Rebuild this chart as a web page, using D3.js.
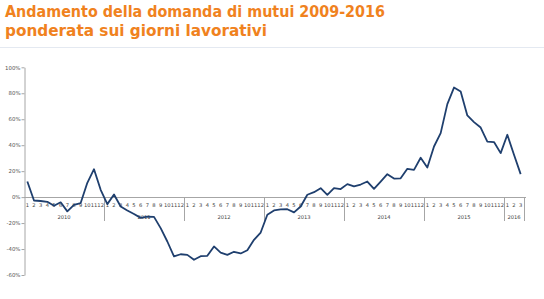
<!DOCTYPE html>
<html><head><meta charset="utf-8">
<script src="https://cdnjs.cloudflare.com/ajax/libs/d3/7.8.5/d3.min.js"></script>
<style>body{margin:0;background:#fff}svg{display:block}</style>
</head><body><svg id="c" width="544" height="299"></svg>
<script>
const titleLines = ["Andamento della domanda di mutui 2009-2016", "ponderata sui giorni lavorativi"];
const years = ["2010","2011","2012","2013","2014","2015","2016"];
const monthsPerYear = [12,12,12,12,12,12,3];
const yTicks = [-60,-40,-20,0,20,40,60,80,100];
const values = [
  12,-2.6,-3,-3.6,-6.7,-4,-11,-6,-4.6,11,21.5,5.6,
  -5.4,2,-7.2,-10.3,-13,-16,-15,-15.2,-23.9,-34.2,-45.7,-44,
  -44.5,-48.3,-45.5,-45.2,-38,-42.7,-44.5,-42.1,-43.4,-40.9,-32.9,-27.3,
  -13.6,-10.3,-9.5,-9.3,-11.8,-7.2,1.8,3.8,6.9,1.8,6.9,6.2,
  10,8.2,9.7,12,6.4,12,17.7,14.3,14.5,21.8,21,30.3,
  22.8,39,49.3,71.6,84.4,81.4,62.9,57.8,53.6,42.8,42.4,33.9,
  48,32.6,17.7
];

const svg = d3.select("#c");
const cats = [];
years.forEach((y,yi)=>{ for(let m=1;m<=monthsPerYear[yi];m++) cats.push({year:y,month:m,key:y+"-"+m}); });

const x = d3.scaleBand().domain(cats.map(d=>d.key)).range([24,524]).padding(0);
const y = d3.scaleLinear().domain([-60,100]).range([275,67.3]);

// title
const tl = svg.append("g");
const titleWidths = [380, 262];
titleLines.forEach((t,i)=>{
  tl.append("text").attr("x",5).attr("y",17+i*19)
    .attr("font-family","'DejaVu Sans', sans-serif").attr("font-size",16.5)
    .attr("font-weight","bold").attr("fill","#F0821E")
    .attr("textLength", titleWidths[i]).attr("lengthAdjust","spacingAndGlyphs").text(t);
});
svg.append("line").attr("x1",0).attr("x2",544).attr("y1",47.5).attr("y2",47.5).attr("stroke","#e4e9f1").attr("stroke-width",1);

// y axis
const yAxis = d3.axisLeft(y).tickValues(yTicks).tickFormat(d=>d+"%").tickSize(3).tickSizeOuter(0);
const ga = svg.append("g").attr("transform","translate(24.5,0)").call(yAxis);
ga.select(".domain").attr("stroke","#a6a6a6");
ga.selectAll(".tick line").attr("stroke","#a6a6a6");
ga.selectAll(".tick text").attr("font-family","'DejaVu Sans', sans-serif").attr("font-size",5.4).attr("fill","#555").attr("x",-4);

// x axis line at 0
svg.append("line").attr("x1",24).attr("x2",526).attr("y1",Math.round(y(0))+0.5).attr("y2",Math.round(y(0))+0.5).attr("stroke","#a6a6a6");

// month labels
svg.append("g").selectAll("text").data(cats).join("text")
  .attr("x",d=>x(d.key)+x.bandwidth()/2).attr("y",207)
  .attr("text-anchor","middle").attr("font-family","'DejaVu Sans', sans-serif")
  .attr("font-size",5.2).attr("fill","#444").text(d=>d.month);

// year groups
let start = 0;
const yg = svg.append("g");
years.forEach((yr,yi)=>{
  const first = cats[start].key, last = cats[start+monthsPerYear[yi]-1].key;
  const x0 = x(first), x1 = x(last)+x.bandwidth();
  yg.append("text").attr("x",(x0+x1)/2).attr("y",218.5).attr("text-anchor","middle")
    .attr("font-family","'DejaVu Sans', sans-serif").attr("font-size",5.2).attr("fill","#444").text(yr);
  yg.append("line").attr("x1",Math.round(x1)+0.5).attr("x2",Math.round(x1)+0.5).attr("y1",y(0)).attr("y2",221)
    .attr("stroke","#a6a6a6");
  start += monthsPerYear[yi];
});

// line
const line = d3.line().x((d,i)=>x(cats[i].key)+x.bandwidth()/2).y(d=>y(d));
svg.append("path").datum(values).attr("d",line).attr("fill","none")
  .attr("stroke","#1F3F6E").attr("stroke-width",1.8).attr("stroke-linejoin","round");
</script></body></html>
